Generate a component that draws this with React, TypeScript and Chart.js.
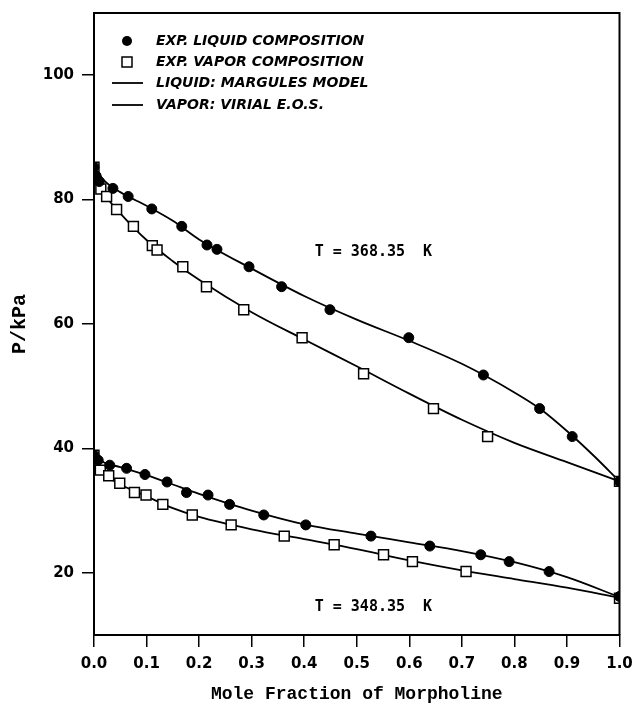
import React, { useEffect, useRef } from "react";
import { Chart, registerables } from "chart.js";

Chart.register(...registerables);

// ---- axis ticks ----
const xTickValues = [0, 0.1, 0.2, 0.3, 0.4, 0.5, 0.6, 0.7, 0.8, 0.9, 1.0];
const yTickValues = [20, 40, 60, 80, 100];

// ---- T = 368.35 K : experimental liquid (filled circles) ----
const liq368X = [0, 0.004, 0.010, 0.036, 0.065, 0.110, 0.167, 0.215, 0.234, 0.295, 0.357, 0.449, 0.599, 0.741, 0.848, 0.910, 1.0];
const liq368Y = [85.2, 83.8, 82.9, 81.8, 80.5, 78.5, 75.7, 72.7, 72.0, 69.2, 66.0, 62.3, 57.8, 51.8, 46.4, 41.9, 34.7];

// ---- T = 368.35 K : experimental vapor (open squares) ----
const vap368X = [0, 0.013, 0.024, 0.043, 0.075, 0.111, 0.120, 0.169, 0.214, 0.285, 0.396, 0.513, 0.646, 0.749, 1.0];
const vap368Y = [85.2, 81.7, 80.5, 78.4, 75.7, 72.6, 71.9, 69.2, 66.0, 62.3, 57.8, 52.0, 46.4, 41.9, 34.7];

// ---- T = 368.35 K : model curves ----
const liqModel368X = [0, 0.02, 0.05, 0.1, 0.15, 0.2, 0.3, 0.4, 0.5, 0.6, 0.7, 0.8, 0.85, 0.9, 0.95, 1.0];
const liqModel368Y = [85.2, 83.0, 81.2, 79.0, 76.6, 73.6, 68.9, 64.5, 60.7, 57.3, 53.6, 49.0, 46.3, 42.8, 38.9, 34.7];
const vapModel368X = [0, 0.01, 0.025, 0.05, 0.1, 0.15, 0.2, 0.3, 0.4, 0.5, 0.6, 0.7, 0.8, 0.9, 1.0];
const vapModel368Y = [85.2, 82.6, 80.3, 77.8, 73.5, 70.1, 67.1, 61.9, 57.5, 53.2, 48.8, 44.6, 40.9, 37.8, 34.7];

// ---- T = 348.35 K : experimental liquid ----
const liq348X = [0, 0.008, 0.030, 0.062, 0.097, 0.139, 0.176, 0.217, 0.258, 0.323, 0.403, 0.527, 0.639, 0.736, 0.790, 0.866, 1.0];
const liq348Y = [38.9, 38.1, 37.3, 36.8, 35.8, 34.6, 32.9, 32.5, 31.0, 29.3, 27.7, 25.9, 24.3, 22.9, 21.8, 20.2, 16.2];

// ---- T = 348.35 K : experimental vapor ----
const vap348X = [0, 0.012, 0.028, 0.049, 0.077, 0.099, 0.131, 0.187, 0.261, 0.362, 0.457, 0.551, 0.606, 0.708, 1.0];
const vap348Y = [38.9, 36.5, 35.6, 34.4, 32.9, 32.5, 31.0, 29.3, 27.7, 25.9, 24.5, 22.9, 21.8, 20.2, 15.9];

// ---- T = 348.35 K : model curves ----
const liqModel348X = [0, 0.02, 0.05, 0.1, 0.15, 0.2, 0.3, 0.4, 0.5, 0.6, 0.7, 0.8, 0.9, 1.0];
const liqModel348Y = [38.9, 37.7, 37.0, 35.7, 34.2, 32.7, 30.0, 27.8, 26.3, 24.9, 23.5, 21.7, 19.3, 16.1];
const vapModel348X = [0, 0.01, 0.025, 0.05, 0.1, 0.15, 0.2, 0.3, 0.4, 0.5, 0.6, 0.7, 0.8, 0.9, 1.0];
const vapModel348Y = [38.9, 36.7, 35.5, 34.2, 32.3, 30.4, 29.0, 27.0, 25.4, 23.8, 22.0, 20.4, 19.0, 17.6, 16.0];

// ---- text ----
const legendLabels = [
  "EXP. LIQUID COMPOSITION",
  "EXP. VAPOR COMPOSITION",
  "LIQUID: MARGULES MODEL",
  "VAPOR: VIRIAL E.O.S.",
];
const tempLabels = ["T = 368.35  K", "T = 348.35  K"];
const tempLabelX = [0.42, 0.42];
const tempLabelY = [71.6, 14.5];
const xTitle = "Mole Fraction of Morpholine";
const yTitle = "P/kPa";

const toPts = (xs: number[], ys: number[]) => xs.map((x, i) => ({ x, y: ys[i] }));

const circleSet = (xs: number[], ys: number[]) => ({
  data: toPts(xs, ys),
  showLine: false,
  pointStyle: "circle",
  pointRadius: 5,
  pointBackgroundColor: "#000",
  pointBorderColor: "#000",
  pointBorderWidth: 1,
});
const squareSet = (xs: number[], ys: number[]) => ({
  data: toPts(xs, ys),
  showLine: false,
  pointStyle: "rect",
  pointRadius: 7,
  pointBackgroundColor: "#fff",
  pointBorderColor: "#000",
  pointBorderWidth: 1.5,
});
const curveSet = (xs: number[], ys: number[]) => ({
  data: toPts(xs, ys),
  showLine: true,
  pointRadius: 0,
  borderColor: "#000",
  borderWidth: 1.8,
  cubicInterpolationMode: "monotone",
  fill: false,
});

const framePlugin = {
  id: "frameAndText",
  afterDraw(chart: any) {
    const { ctx, chartArea, scales } = chart;
    const { left, right, top, bottom } = chartArea;
    ctx.save();
    // top and right frame
    ctx.strokeStyle = "#000";
    ctx.lineWidth = 2;
    ctx.beginPath();
    ctx.moveTo(left, top);
    ctx.lineTo(right, top);
    ctx.lineTo(right, bottom);
    ctx.stroke();

    // legend
    const mx = left + 33;
    const tx = left + 62;
    const rows = [top + 28, top + 49, top + 70, top + 92];
    ctx.fillStyle = "#000";
    ctx.beginPath();
    ctx.arc(mx, rows[0], 5, 0, Math.PI * 2);
    ctx.fill();
    ctx.lineWidth = 1.5;
    ctx.fillStyle = "#fff";
    ctx.fillRect(mx - 5, rows[1] - 5, 10, 10);
    ctx.strokeRect(mx - 5, rows[1] - 5, 10, 10);
    ctx.lineWidth = 1.8;
    [rows[2], rows[3]].forEach((ry) => {
      ctx.beginPath();
      ctx.moveTo(mx - 15, ry);
      ctx.lineTo(mx + 16, ry);
      ctx.stroke();
    });
    ctx.fillStyle = "#000";
    ctx.font = "italic bold 14px 'DejaVu Sans'";
    ctx.textAlign = "left";
    ctx.textBaseline = "middle";
    legendLabels.forEach((t, i) => ctx.fillText(t, tx, rows[i]));

    // temperature labels
    ctx.font = "bold 15px 'DejaVu Sans Mono'";
    tempLabels.forEach((t, i) => {
      const px = scales.x.getPixelForValue(tempLabelX[i]);
      const py = scales.y.getPixelForValue(tempLabelY[i]);
      ctx.fillText(t, px, py);
    });
    ctx.restore();
  },
};

export default function App() {
  const canvasRef = useRef<HTMLCanvasElement | null>(null);

  useEffect(() => {
    document.body.style.margin = "0";
    const canvas = canvasRef.current;
    if (!canvas) return;
    const tickFont = { family: "'DejaVu Sans'", size: 15, weight: "bold" as const };
    const chart = new Chart(canvas, {
      type: "scatter",
      data: {
        datasets: [
          circleSet(liq368X, liq368Y),
          squareSet(vap368X, vap368Y),
          circleSet(liq348X, liq348Y),
          squareSet(vap348X, vap348Y),
          curveSet(liqModel368X, liqModel368Y),
          curveSet(vapModel368X, vapModel368Y),
          curveSet(liqModel348X, liqModel348Y),
          curveSet(vapModel348X, vapModel348Y),
        ] as any,
      },
      options: {
        animation: false,
        responsive: true,
        maintainAspectRatio: false,
        layout: { padding: { top: 13, right: 15.5, left: 0, bottom: 0 } },
        plugins: { legend: { display: false }, tooltip: { enabled: false } },
        scales: {
          x: {
            type: "linear",
            min: 0,
            max: 1,
            afterBuildTicks: (s: any) => {
              s.ticks = xTickValues.map((v) => ({ value: v }));
            },
            afterFit: (s: any) => {
              s.height = 70;
              s.paddingLeft = 0;
              s.paddingRight = 0;
            },
            ticks: {
              font: tickFont,
              color: "#000",
              padding: 8,
              maxRotation: 0,
              autoSkip: false,
              callback: (v: any) => Number(v).toFixed(1),
            },
            grid: {
              drawOnChartArea: false,
              drawTicks: true,
              tickLength: 12,
              color: "#000",
              lineWidth: 1.5,
            },
            border: { display: true, color: "#000", width: 2 },
            title: {
              display: true,
              text: xTitle,
              color: "#000",
              font: { family: "'Liberation Mono'", size: 18, weight: "bold" },
              padding: { top: 0, bottom: 0 },
            },
          },
          y: {
            type: "linear",
            min: 10,
            max: 110,
            afterBuildTicks: (s: any) => {
              s.ticks = yTickValues.map((v) => ({ value: v }));
            },
            afterFit: (s: any) => {
              s.width = 94;
              s.paddingTop = 0;
              s.paddingBottom = 0;
            },
            ticks: { font: tickFont, color: "#000", padding: 8, autoSkip: false },
            grid: {
              drawOnChartArea: false,
              drawTicks: true,
              tickLength: 12,
              color: "#000",
              lineWidth: 1.5,
            },
            border: { display: true, color: "#000", width: 2 },
            title: {
              display: true,
              text: yTitle,
              color: "#000",
              font: { family: "'Liberation Mono'", size: 20, weight: "bold" },
              padding: { top: 8, bottom: 0 },
            },
          },
        },
      } as any,
      plugins: [framePlugin],
    });
    return () => chart.destroy();
  }, []);

  return (
    <div style={{ width: 635, height: 705, position: "relative" }}>
      <canvas ref={canvasRef} />
    </div>
  );
}
